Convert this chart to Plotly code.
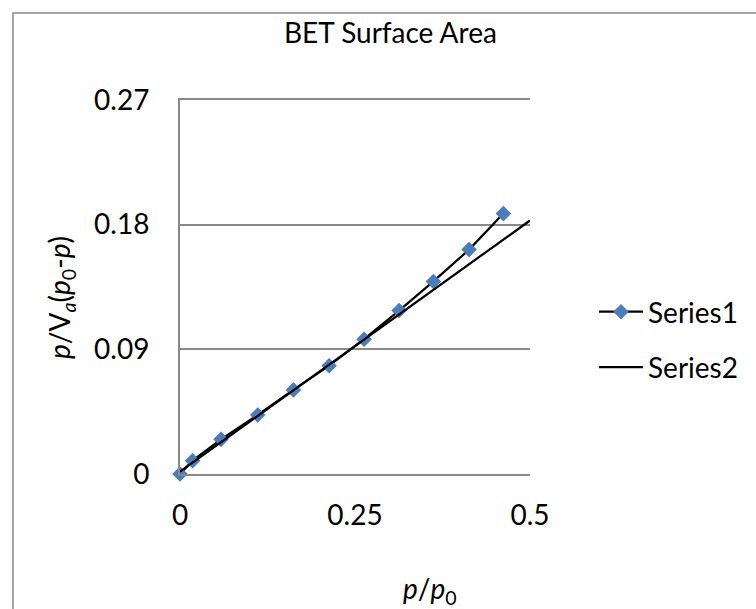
import plotly.graph_objects as go

# Series1 data (BET plot points)
s1_x = [0.0, 0.018, 0.0586, 0.111, 0.162, 0.213, 0.263, 0.313, 0.362, 0.413, 0.462]
s1_y = [0.0, 0.0096, 0.025, 0.0426, 0.0607, 0.0782, 0.0973, 0.118, 0.139, 0.162, 0.188]
# Series2 (linear fit line)
s2_x = [0.0, 0.5]
s2_y = [0.0017, 0.183]

x_ticks = [0, 0.25, 0.5]
x_ticklabels = ["0", "0.25", "0.5"]
y_ticks = [0, 0.09, 0.18, 0.27]
y_ticklabels = ["0", "0.09", "0.18", "0.27"]

FONT = "Lato"
W, H = 756, 609
L, R, T, B = 180, 530, 100, 474

def px(x):
    return (x - L) / (R - L)

def py(y):
    return (B - y) / (B - T)

fig = go.Figure()
fig.add_trace(go.Scatter(
    x=s1_x, y=s1_y, mode="lines+markers", name="Series1",
    legendgroup="a",
    line=dict(color="black", width=2.25),
    marker=dict(symbol="diamond", size=12, color="#4A7EBB",
                line=dict(width=0)),
    cliponaxis=False,
))
fig.add_trace(go.Scatter(
    x=s2_x, y=s2_y, mode="lines", name="Series2",
    legendgroup="b",
    line=dict(color="black", width=2.25),
    cliponaxis=False,
))

grid = "#898989"
fig.update_layout(
    width=W, height=H,
    margin=dict(l=L, r=W - R, t=T, b=H - B),
    paper_bgcolor="white", plot_bgcolor="white",
    font=dict(family=FONT, size=28, color="black"),
    showlegend=True,
    legend=dict(x=px(594), y=py(287), xanchor="left", yanchor="top",
                bgcolor="rgba(0,0,0,0)", borderwidth=0,
                itemwidth=44, traceorder="grouped", tracegroupgap=16,
                font=dict(family=FONT, size=28)),
    xaxis=dict(range=[0, 0.5], tickvals=x_ticks, ticktext=x_ticklabels,
               showgrid=False, zeroline=False,
               showline=True, linecolor=grid, linewidth=2, mirror=True,
               ticks="", ticklabelstandoff=15),
    yaxis=dict(range=[0, 0.27], tickvals=y_ticks, ticktext=y_ticklabels,
               showgrid=True, gridcolor=grid, gridwidth=2,
               zeroline=False, showline=True, linecolor=grid, linewidth=2,
               ticks="", ticklabelstandoff=23),
)

# chart border
fig.add_shape(type="rect", xref="paper", yref="paper",
              x0=px(13), x1=px(770), y0=py(13), y1=py(625),
              line=dict(color="#868686", width=1.5), fillcolor="rgba(0,0,0,0)",
              layer="below")

fig.add_annotation(text="BET Surface Area", xref="paper", yref="paper",
                   x=px(390), y=py(32), showarrow=False,
                   xanchor="center", yanchor="middle",
                   font=dict(family=FONT, size=28))
fig.add_annotation(text="<i>p</i>/V<sub><i>a</i></sub>(<i>p</i><sub>0</sub>-<i>p</i>)",
                   xref="paper", yref="paper", x=px(61), y=py(297),
                   showarrow=False, textangle=-90,
                   xanchor="center", yanchor="middle",
                   font=dict(family=FONT, size=28))
fig.add_annotation(text="<i>p</i>/<i>p</i><sub>0</sub>",
                   xref="paper", yref="paper", x=px(430), y=py(590),
                   showarrow=False, xanchor="center", yanchor="middle",
                   font=dict(family=FONT, size=28))

fig.write_html("out.html")
